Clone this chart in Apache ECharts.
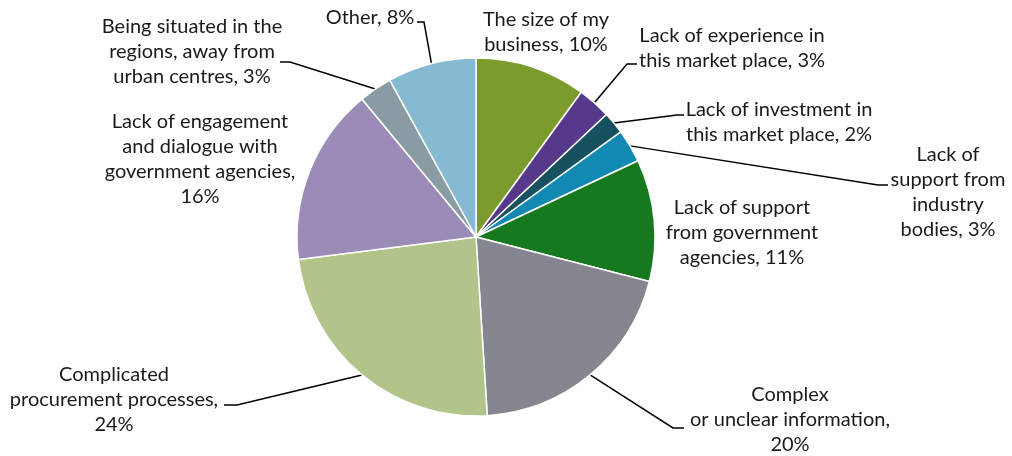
<!DOCTYPE html>
<html>
<head>
<meta charset="utf-8">
<script src="https://cdn.jsdelivr.net/npm/echarts@6/dist/echarts.min.js"></script>
<style>
  html, body { margin: 0; padding: 0; background: #fff; }
  #chart { width: 1012px; height: 456px; }
</style>
</head>
<body>
<div id="chart"></div>
<script>
// Barriers to doing business with government, share of responses (%)
const categories = [
  'The size of my business',
  'Lack of experience in this market place',
  'Lack of investment in this market place',
  'Lack of support from industry bodies',
  'Lack of support from government agencies',
  'Complex or unclear information',
  'Complicated procurement processes',
  'Lack of engagement and dialogue with government agencies',
  'Being situated in the regions, away from urban centres',
  'Other'
];
const values = [10, 3, 2, 3, 11, 20, 24, 16, 3, 8];

// Wrapped label text; {v} is replaced by the value
const labelTemplates = [
  'The size of my\nbusiness, {v}%',
  'Lack of experience in\nthis market place, {v}%',
  'Lack of investment in\nthis market place, {v}%',
  'Lack of\nsupport from\nindustry\nbodies, {v}%',
  'Lack of support\nfrom government\nagencies, {v}%',
  'Complex\nor unclear information,\n{v}%',
  'Complicated\nprocurement processes,\n{v}%',
  'Lack of engagement\nand dialogue with\ngovernment agencies,\n{v}%',
  'Being situated in the\nregions, away from\nurban centres, {v}%',
  'Other, {v}%'
];

const colors = ['#7B9B2C', '#56398A', '#17505E', '#1189B2', '#16791E',
                '#868690', '#B1C48A', '#9A8BB7', '#8A9CA3', '#86B9D2'];

// Label placement: text centre, and the leader's elbow/end (null = no leader)
const labelPlacement = [
  { c: [546, 32] },
  { c: [732, 48],  elbow: [627, 64],  end: [637, 64] },
  { c: [779, 122], elbow: [677, 115], end: [684, 115] },
  { c: [948, 192], elbow: [878, 185], end: [888, 185] },
  { c: [742, 233] },
  { c: [790, 420], elbow: [673, 428], end: [684, 428] },
  { c: [114, 400], elbow: [237, 405], end: [224, 405] },
  { c: [200, 159] },
  { c: [192, 52],  elbow: [290, 62],  end: [280, 62] },
  { c: [370, 18],  elbow: [424, 22],  end: [417, 22] }
];

const chart = echarts.init(document.getElementById('chart'), null, { renderer: 'canvas' });

const data = categories.map((name, i) => ({
  name: name,
  value: values[i],
  itemStyle: { color: colors[i] },
  label: { formatter: labelTemplates[i].replace('{v}', values[i]) },
  labelLine: { show: !!labelPlacement[i].end }
}));

chart.setOption({
  animation: false,
  series: [{
    type: 'pie',
    center: [476, 237],
    radius: 179,
    startAngle: 90,
    clockwise: true,
    avoidLabelOverlap: false,
    data: data,
    itemStyle: { borderColor: '#ffffff', borderWidth: 1.5 },
    label: {
      show: true,
      position: 'outside',
      color: '#1a1a1a',
      fontFamily: 'Lato',
      fontSize: 20,
      lineHeight: 25,
      align: 'center'
    },
    labelLine: {
      show: true,
      length: 10,
      length2: 10,
      smooth: false,
      lineStyle: { color: '#000000', width: 1.5 }
    },
    labelLayout: function (params) {
      const p = labelPlacement[params.dataIndex];
      const out = {
        x: p.c[0],
        y: p.c[1],
        align: 'center',
        verticalAlign: 'middle',
        hideOverlap: false,
        moveOverlap: false
      };
      if (p.end && params.labelLinePoints) {
        const start = params.labelLinePoints[0];
        out.labelLinePoints = [start, p.elbow, p.end];
      }
      return out;
    }
  }]
});
</script>
</body>
</html>
